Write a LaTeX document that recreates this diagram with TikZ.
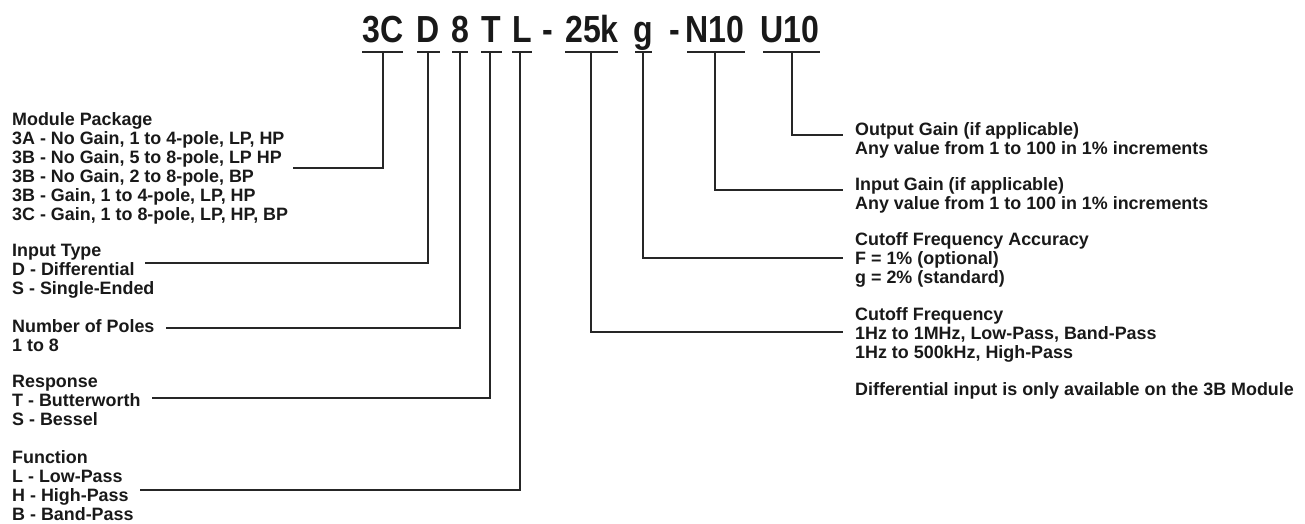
\documentclass[tikz,border=0pt]{standalone}
\usepackage{fontspec}
\newfontfamily\labfont[UprightFont={* Bold}]{Liberation Sans}
\newfontfamily\titlefont[FakeStretch=0.85,UprightFont={* Bold}]{Liberation Sans}
\begin{document}
\begin{tikzpicture}[x=1pt,y=-1pt,
  lab/.style={anchor=north west,inner sep=0pt,align=left,text=black!90,
    font=\labfont\fontsize{17.9}{19}\selectfont},
  ttl/.style={anchor=base,inner sep=0pt,text=black!90,
    font=\titlefont\fontsize{37.7}{40}\selectfont},
  ln/.style={line width=1.3pt,draw=black!85}]
\useasboundingbox[fill=white] (0,0) rectangle (1305,523);

% title pieces
\node[ttl] (t3C) at (383,42) {3C};
\node[ttl] (tD) at (428,42) {D};
\node[ttl] (t8) at (460,42) {8};
\node[ttl] (tT) at (491,42) {T};
\node[ttl] (tL) at (522,42) {L};
\node[ttl] (td1) at (548,42) {-};
\node[ttl] (t25) at (592,42) {25k};
\node[ttl] (tg) at (643,42) {g};
\node[ttl] (td2) at (675,42) {-};
\node[ttl] (tN) at (715,42) {N10};
\node[ttl] (tU) at (790,42) {U10};

% underlines
\draw[ln] (362,52) -- (403,52);
\draw[ln] (417,52) -- (440,52);
\draw[ln] (452,52) -- (468,52);
\draw[ln] (481,52) -- (502,52);
\draw[ln] (512,52) -- (532,52);
\draw[ln] (565,52) -- (618,52);
\draw[ln] (635,52) -- (652,52);
\draw[ln] (687,52) -- (745,52);
\draw[ln] (763,52) -- (820,52);

% tap points
\coordinate (a3C) at (383,52);
\coordinate (aD) at (428,52);
\coordinate (a8) at (460,52);
\coordinate (aT) at (490,52);
\coordinate (aL) at (520,52);
\coordinate (a25) at (591,52);
\coordinate (ag) at (643,52);
\coordinate (aN) at (715,52);
\coordinate (aU) at (792,52);

% free ends
\coordinate (eModule) at (293,168);
\coordinate (eInput) at (145,263);
\coordinate (ePoles) at (166,328);
\coordinate (eResp) at (152,398);
\coordinate (eFunc) at (140,490);
\coordinate (eOut) at (843,135);
\coordinate (eInG) at (843,190);
\coordinate (eAcc) at (843,258);
\coordinate (eFreq) at (843,332);

% connectors
\draw[ln] (a3C) |- (eModule);
\draw[ln] (aD) |- (eInput);
\draw[ln] (a8) |- (ePoles);
\draw[ln] (aT) |- (eResp);
\draw[ln] (aL) |- (eFunc);
\draw[ln] (aU) |- (eOut);
\draw[ln] (aN) |- (eInG);
\draw[ln] (ag) |- (eAcc);
\draw[ln] (a25) |- (eFreq);

% left labels
\node[lab] (module) at (12,112) {Module Package\\3A - No Gain, 1 to 4-pole, LP, HP\\3B - No Gain, 5 to 8-pole, LP HP\\3B - No Gain, 2 to 8-pole, BP\\3B - Gain, 1 to 4-pole, LP, HP\\3C - Gain, 1 to 8-pole, LP, HP, BP};
\node[lab] (input) at (12,244) {Input Type\\D - Differential\\S - Single-Ended};
\node[lab] (poles) at (12,319) {Number of Poles\\1 to 8};
\node[lab] (resp) at (12,375) {Response\\T - Butterworth\\S - Bessel};
\node[lab] (func) at (12,450) {Function\\L - Low-Pass\\H - High-Pass\\B - Band-Pass};

% right labels
\node[lab] (outg) at (855,122) {Output Gain (if applicable)\\Any value from 1 to 100 in 1\% increments};
\node[lab] (ing) at (855,177) {Input Gain (if applicable)\\Any value from 1 to 100 in 1\% increments};
\node[lab] (acc) at (855,232) {Cutoff Frequency Accuracy\\F = 1\% (optional)\\g = 2\% (standard)};
\node[lab] (freq) at (855,307) {Cutoff Frequency\\1Hz to 1MHz, Low-Pass, Band-Pass\\1Hz to 500kHz, High-Pass};
\node[lab] (note) at (855,382) {Differential input is only available on the 3B Module};
\end{tikzpicture}
\end{document}
